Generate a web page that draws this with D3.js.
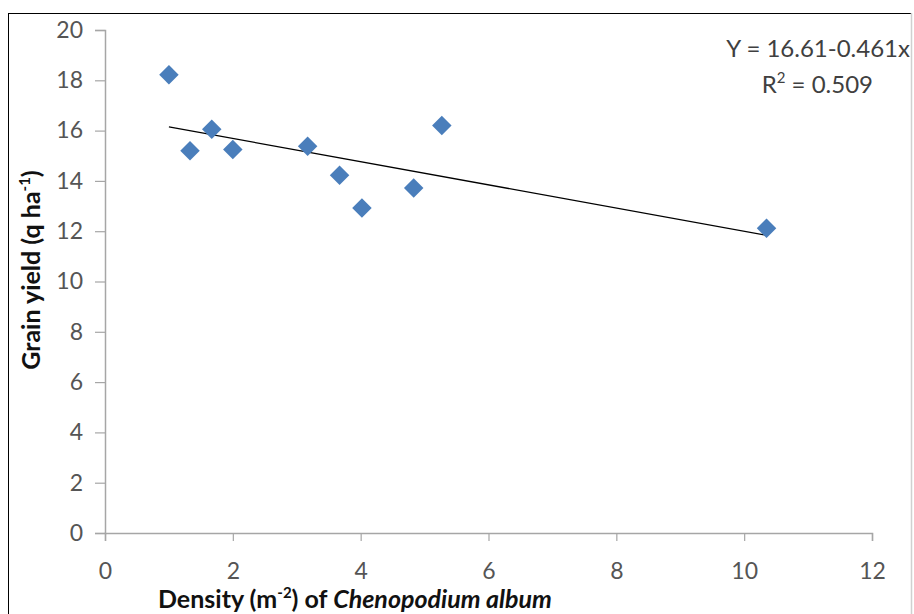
<!DOCTYPE html>
<html>
<head>
<meta charset="utf-8">
<script src="https://cdn.jsdelivr.net/npm/d3@7"></script>
<style>
  html, body { margin: 0; padding: 0; background: #fff; }
  svg { display: block; }
</style>
</head>
<body>
<svg id="chart" width="914" height="614"></svg>
<script>
// Weed density (plants m-2) and grain yield (q ha-1)
const density = [1.0, 1.33, 1.67, 2.0, 3.17, 3.67, 4.02, 4.83, 5.27, 10.35];
const grainYield = [18.22, 15.2, 16.05, 15.25, 15.38, 14.22, 12.92, 13.72, 16.2, 12.12];

// Linear fit reported on the chart
const fitIntercept = 16.61;
const fitSlope = -0.461;
const fitR2 = 0.509;

const xTicks = [0, 2, 4, 6, 8, 10, 12];
const yTicks = [0, 2, 4, 6, 8, 10, 12, 14, 16, 18, 20];

const svg = d3.select("#chart");
const font = "Lato, 'Open Sans', sans-serif";

// outer frame
svg.append("rect")
  .attr("x", 8.5).attr("y", 13.5)
  .attr("width", 903).attr("height", 620)
  .attr("fill", "none").attr("stroke", "#000").attr("stroke-width", 1);
svg.append("line")
  .attr("x1", 911.5).attr("x2", 911.5).attr("y1", 13).attr("y2", 614)
  .attr("stroke", "#d0d0d0").attr("stroke-width", 1.5);

const x = d3.scaleLinear().domain([0, 12]).range([105, 872]);
const y = d3.scaleLinear().domain([0, 20]).range([533, 30]);

// y axis
const yAxis = svg.append("g")
  .attr("transform", "translate(105,0)")
  .call(d3.axisLeft(y).tickValues(yTicks).tickSize(10).tickPadding(12).tickFormat(d3.format("d")));
yAxis.select(".domain").attr("stroke", "#a6a6a6").attr("stroke-width", 1.5);
yAxis.selectAll(".tick line").attr("stroke", "#a6a6a6").attr("stroke-width", 1.2);
yAxis.selectAll(".tick text")
  .attr("fill", "#555").attr("font-size", 23).attr("font-family", font);

// x axis
const xAxis = svg.append("g")
  .attr("transform", "translate(0,533)")
  .call(d3.axisBottom(x).tickValues(xTicks).tickSize(8).tickPadding(22).tickFormat(d3.format("d")));
xAxis.select(".domain").attr("stroke", "#a6a6a6").attr("stroke-width", 1.5);
xAxis.selectAll(".tick line").attr("stroke", "#a6a6a6").attr("stroke-width", 1.2);
xAxis.selectAll(".tick text")
  .attr("fill", "#555").attr("font-size", 23).attr("font-family", font);

// fitted line over the observed density range
const xMin = d3.min(density), xMax = d3.max(density);
svg.append("line")
  .attr("x1", x(xMin)).attr("y1", y(fitIntercept + fitSlope * xMin))
  .attr("x2", x(xMax)).attr("y2", y(fitIntercept + fitSlope * xMax))
  .attr("stroke", "#000").attr("stroke-width", 1.3);

// observations as diamonds
const diamond = d3.symbol().type(d3.symbolSquare).size(190);
svg.append("g").selectAll("path")
  .data(density.map((d, i) => [d, grainYield[i]]))
  .join("path")
  .attr("d", diamond)
  .attr("transform", d => `translate(${x(d[0])},${y(d[1])}) rotate(45)`)
  .attr("fill", "#4A7EBB");

// equation and R²
const eq = svg.append("g").attr("font-family", font).attr("fill", "#404040").attr("font-size", 24);
eq.append("text")
  .attr("x", 910).attr("y", 57).attr("text-anchor", "end")
  .text(`Y = ${fitIntercept}${fitSlope}x`);
const r2 = eq.append("text").attr("x", 873).attr("y", 93).attr("text-anchor", "end");
r2.append("tspan").text("R");
r2.append("tspan").attr("font-size", 15).attr("dy", -10).text("2");
r2.append("tspan").attr("dy", 10).text(` = ${fitR2}`);

// axis titles
const xt = svg.append("text")
  .attr("x", 158).attr("y", 608)
  .attr("font-family", font).attr("font-size", 25).attr("font-weight", "bold").attr("fill", "#111");
xt.append("tspan").text("Density (m");
xt.append("tspan").attr("font-size", 15).attr("dy", -10).text("-2");
xt.append("tspan").attr("dy", 10).text(") of ");
xt.append("tspan").attr("font-style", "italic").text("Chenopodium album");

const yt = svg.append("text")
  .attr("transform", "translate(40,270) rotate(-90)")
  .attr("text-anchor", "middle")
  .attr("font-family", font).attr("font-size", 25).attr("font-weight", "bold").attr("fill", "#111");
yt.append("tspan").text("Grain yield (q ha");
yt.append("tspan").attr("font-size", 15).attr("dy", -10).text("-1");
yt.append("tspan").attr("dy", 10).text(")");
</script>
</body>
</html>
